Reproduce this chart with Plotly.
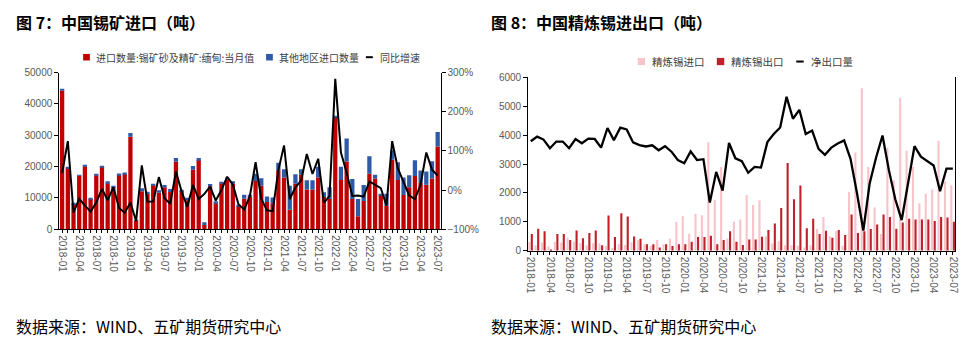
import plotly.graph_objects as go

# ---------------- data ----------------
months = [f"{y}-{m:02d}" for y in range(2018, 2024) for m in range(1, 13)][:67]
tick_text = [m if i % 3 == 0 else "" for i, m in enumerate(months)]

# Fig 7: tin ore imports (t)
myanmar = [44300, 19600, 8000, 17100, 20100, 9600, 17200, 19900, 14700, 13400,
           17400, 17700, 29500, 2800, 12100, 11400, 14000, 11600, 13400, 11900,
           21500, 12200, 9200, 19000, 22100, 1300, 13700, 8300, 14700, 15900,
           14500, 7400, 9700, 10400, 15400, 13900, 8700, 8300, 18800, 16500,
           6200, 14500, 17400, 12700, 12700, 16500, 10300, 9600, 35800, 15700,
           21600, 9600, 4100, 9000, 17700, 16200, 11000, 7500, 22200, 15700,
           10900, 13400, 17000, 14800, 14200, 16200, 26400]
other = [500, 300, 200, 300, 300, 200, 400, 300, 600, 400,
         400, 400, 1200, 200, 1000, 400, 400, 800, 700, 900,
         1200, 400, 800, 1200, 600, 900, 700, 600, 300, 400,
         800, 400, 1300, 600, 2300, 2400, 1700, 1800, 2400, 2600,
         7700, 3000, 1700, 2900, 2900, 3400, 1500, 3800, 200, 4200,
         7400, 6400, 5500, 5100, 5600, 1200, 300, 3800, 3000, 5700,
         5600, 3800, 5000, 3900, 4200, 5500, 4600]
yoy = [44, 125, -58, -22, -40, -55, -32, 3, -26, 7,
       -46, -58, -32, -79, 63, -30, -29, 33, -21, -35,
       47, -4, -43, 13, -23, -10, 9, -27, 0, 34,
       14, -37, -50, -15, 71, -23, -52, -54, 51, 114,
       -23, 7, 24, 92, 41, 80, -33, -15, 284, 96,
       44, -15, -14, -17, 22, 14, 5, -40, 125, 55,
       18, -14, -23, 14, 96, 52, 37]

# Fig 8: refined tin imports / exports (t)
refined_import = [300, 190, 280, 150, 300, 280, 450, 310, 260, 190,
                  260, 250, 160, 90, 220, 200, 290, 370, 220, 170,
                  370, 220, 410, 1000, 1190, 590, 1270, 1230, 3760, 1760,
                  2900, 420, 1000, 1080, 1930, 1580, 1750, 500, 250, 330,
                  190, 190, 170, 110, 190, 750, 1170, 500, 690, 170,
                  2030, 3400, 5630, 2900, 1500, 580, 3570, 2430, 5300, 3460,
                  2900, 1640, 1970, 2120, 3810, 2400, 2270]
refined_export = [580, 760, 670, 40, 580, 580, 370, 700, 430, 610,
                  700, 190, 1220, 470, 1300, 1180, 490, 410, 220, 220,
                  110, 220, 160, 220, 220, 310, 470, 470, 520, 220,
                  370, 670, 310, 200, 390, 390, 480, 720, 940, 1480,
                  3040, 1780, 2260, 780, 1110, 580, 690, 450, 720, 540,
                  1250, 610, 670, 750, 910, 1250, 1170, 760, 980, 1110,
                  1080, 1080, 1080, 1030, 1170, 1150, 1000]
net_export = [3790, 3950, 3850, 3550, 3780, 3780, 3550, 3870, 3720, 3880,
              3870, 3570, 4250, 3830, 4260, 4200, 3750, 3660, 3610, 3650,
              3480, 3620, 3430, 3140, 3030, 3440, 3140, 3170, 1670, 2730,
              2080, 3730, 3200, 3100, 2700, 2900, 2880, 3760, 4040, 4270,
              5330, 4570, 4880, 4040, 4160, 3530, 3320, 3570, 3710, 3820,
              3180, 2010, 700, 2340, 3230, 3990, 2790, 1780, 1060, 2340,
              3620, 3260, 3090, 2950, 2060, 2840, 2840]

C_MYANMAR = "#C00000"
C_OTHER = "#2E5AA6"
C_IMPORT = "#F9C3CA"
C_EXPORT = "#C0202A"

W, H = 971, 353
def fx(px):
    return px / W
def fy(py):
    return 1 - py / H

FONT = "Liberation Sans, Arial, Noto Sans CJK SC, sans-serif"
CJK = "Noto Sans CJK SC, sans-serif"
TICKC = "#595959"

fig = go.Figure()

# ---- left chart ----
fig.add_trace(go.Bar(x=months, y=myanmar, name="进口数量:锡矿砂及精矿:缅甸:当月值",
                     marker=dict(color=C_MYANMAR, line=dict(width=0)),
                     width=0.75, xaxis="x", yaxis="y"))
fig.add_trace(go.Bar(x=months, y=other, base=myanmar, name="其他地区进口数量",
                     marker=dict(color=C_OTHER, line=dict(width=0)),
                     width=0.75, xaxis="x", yaxis="y"))
fig.add_trace(go.Scatter(x=months, y=yoy, name="同比增速", mode="lines",
                         line=dict(color="black", width=2),
                         xaxis="x", yaxis="y2"))

# ---- right chart ----
fig.add_trace(go.Bar(x=months, y=refined_import, name="精炼锡进口",
                     marker=dict(color=C_IMPORT, line=dict(width=0)),
                     width=0.33, offset=-0.40, xaxis="x2", yaxis="y3"))
fig.add_trace(go.Bar(x=months, y=refined_export, name="精炼锡出口",
                     marker=dict(color=C_EXPORT, line=dict(width=0)),
                     width=0.33, offset=0.0, xaxis="x2", yaxis="y3"))
fig.add_trace(go.Scatter(x=months, y=net_export, name="净出口量", mode="lines",
                         line=dict(color="black", width=2.3),
                         xaxis="x2", yaxis="y3"))

axis_common = dict(showgrid=False, zeroline=False, showline=True, linecolor="#000000",
                   linewidth=1, ticks="outside", ticklen=4, tickcolor="#000000",
                   tickfont=dict(family=FONT, size=10, color=TICKC))

xcommon = dict(axis_common, type="category", tickmode="array", tickvals=months,
               ticktext=tick_text, tickangle=90, ticklen=3)

fig.update_layout(
    width=W, height=H, margin=dict(l=0, r=0, t=0, b=0),
    paper_bgcolor="white", plot_bgcolor="white",
    barmode="overlay", showlegend=False,
    font=dict(family=FONT, color="#404040"),
    xaxis=dict(xcommon, domain=[fx(56.7), fx(440.7)], anchor="y", range=[-0.5, 66.5]),
    yaxis=dict(axis_common, domain=[fy(231), fy(69)], range=[0, 50000], dtick=10000,
               tickformat="d"),
    yaxis2=dict(axis_common, overlaying="y", side="right", anchor="x",
                range=[-100, 300], dtick=100, ticksuffix="%"),
    xaxis2=dict(xcommon, domain=[fx(529), fx(959)], anchor="y3", range=[-0.4, 66.35]),
    yaxis3=dict(axis_common, domain=[fy(253.3), fy(74)], anchor="x2",
                range=[0, 6000], dtick=1000, mirror=True, tickformat="d"),
)

# ---- custom legends (layout only) ----
legend_items = [
    # (kind, color, symbol_x0, symbol_x1, text, text_x, y_center, font size)
    ("box", C_MYANMAR, 80.7, 87.5, "进口数量:锡矿砂及精矿:缅甸:当月值", 92.5, 53, 10),
    ("box", C_OTHER, 265, 271.8, "其他地区进口数量", 277, 53, 10),
    ("line", "black", 365.5, 372.5, "同比增速", 379, 53, 10),
    ("box", C_IMPORT, 639.3, 646.7, "精炼锡进口", 652.5, 57.5, 10.5),
    ("box", C_EXPORT, 719, 726.5, "精炼锡出口", 732.5, 57.5, 10.5),
    ("line", "black", 799, 806.5, "净出口量", 812.5, 57.5, 10.5),
]
for kind, col, x0, x1, txt, tx, yc, fs in legend_items:
    if kind == "box":
        half = (x1 - x0) / 2
        fig.add_shape(type="rect", xref="paper", yref="paper",
                      x0=fx(x0), x1=fx(x1), y0=fy(yc + half), y1=fy(yc - half),
                      fillcolor=col, line=dict(width=0))
    else:
        fig.add_shape(type="line", xref="paper", yref="paper",
                      x0=fx(x0), x1=fx(x1), y0=fy(yc), y1=fy(yc),
                      line=dict(color=col, width=2))
    fig.add_annotation(text=txt, x=fx(tx), y=fy(yc), xref="paper", yref="paper",
                       xanchor="left", yanchor="middle", showarrow=False,
                       borderpad=0, font=dict(family=CJK, size=fs, color="#404040"))

annots = [
    dict(text="<b>图 7：中国锡矿进口（吨）</b>", x=fx(12), y=fy(17), size=16),
    dict(text="<b>图 8：中国精炼锡进出口（吨）</b>", x=fx(491), y=fy(17), size=16),
    dict(text="数据来源：WIND、五矿期货研究中心", x=fx(12), y=fy(331), size=16),
    dict(text="数据来源：WIND、五矿期货研究中心", x=fx(491), y=fy(331), size=16),
]
for a in annots:
    fig.add_annotation(text=a["text"], x=a["x"], y=a["y"], xref="paper", yref="paper",
                       xanchor="left", yanchor="middle", showarrow=False, borderpad=0,
                       font=dict(family=CJK, size=a["size"], color="#000000"))

fig.write_html("out.html")
